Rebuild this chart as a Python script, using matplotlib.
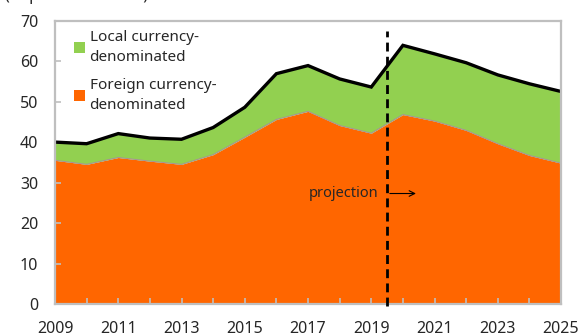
import matplotlib
matplotlib.use("Agg")
import matplotlib.pyplot as plt
from matplotlib.patches import Patch
from matplotlib.ticker import MultipleLocator

plt.rcParams["font.family"] = ["Noto Sans", "DejaVu Sans"]

years = list(range(2009, 2026))
foreign = [35.5, 34.5, 36.2, 35.3, 34.5, 36.9, 41.2, 45.6, 47.6, 44.1, 42.2,
           46.8, 45.2, 42.9, 39.6, 36.7, 34.8]
total = [40.0, 39.6, 42.1, 41.0, 40.7, 43.6, 48.6, 56.9, 58.9, 55.6, 53.6,
         63.9, 61.8, 59.6, 56.6, 54.4, 52.5]
projection_start = 2019.5
x_tick_labels = [str(y) for y in range(2009, 2026, 2)]

orange = "#FF6600"
green = "#92D050"
grey = "#BFBFBF"
txt = "#262626"

fig = plt.figure(figsize=(5.79, 3.33), dpi=100)
ax = fig.add_axes([0.095, 0.087, 0.874, 0.851])

ax.fill_between(years, 0, foreign, color=orange, lw=0)
ax.fill_between(years, foreign, total, color=green, lw=0)
ax.plot(years, foreign, color="#A8909A", lw=0.7)
ax.plot(years, total, color="black", lw=2.4, solid_joinstyle="miter")

ax.plot([projection_start, projection_start], [-0.6, 67.5], color="black",
        lw=2.0, ls=(0, (3.2, 1.9)), clip_on=False, zorder=5)

ax.text(projection_start - 0.28, 27.3, "projection", ha="right", va="center",
        fontsize=10.5, color=txt)
ax.annotate("", xy=(projection_start + 1.0, 27.3), xytext=(projection_start, 27.3),
            arrowprops=dict(arrowstyle="->", color="black", lw=0.8))

ax.set_xlim(2009, 2025)
ax.set_ylim(0, 70)
ax.xaxis.set_minor_locator(MultipleLocator(1))
ax.yaxis.set_major_locator(MultipleLocator(10))
ax.set_xticks(range(2009, 2026, 2))
ax.set_xticklabels(x_tick_labels)
for s in ax.spines.values():
    s.set_color(grey)
    s.set_linewidth(1.6)
ax.tick_params(which="both", direction="in", color=grey, width=1.2,
               labelsize=11.5, labelcolor=txt)
ax.tick_params(axis="x", which="both", length=4, pad=12)
ax.tick_params(axis="y", length=4, pad=12)

handles = [Patch(facecolor=green, edgecolor="none"),
           Patch(facecolor=orange, edgecolor="none")]
labels = ["Local currency-\ndenominated", "Foreign currency-\ndenominated"]
leg = ax.legend(handles, labels, loc="upper left", bbox_to_anchor=(0.02, 1.0),
                frameon=False, fontsize=11, handlelength=0.7, handleheight=0.7,
                handletextpad=0.3, labelspacing=0.85, labelcolor=txt,
                borderaxespad=0.2)
for t in leg.get_texts():
    t.set_linespacing(1.45)

fig.text(0.008, 1 - 0.5 / 333, "(In percent of GDP)", ha="left", va="baseline",
         fontsize=11.5, color=txt)

fig.savefig("out.png", dpi=100)
